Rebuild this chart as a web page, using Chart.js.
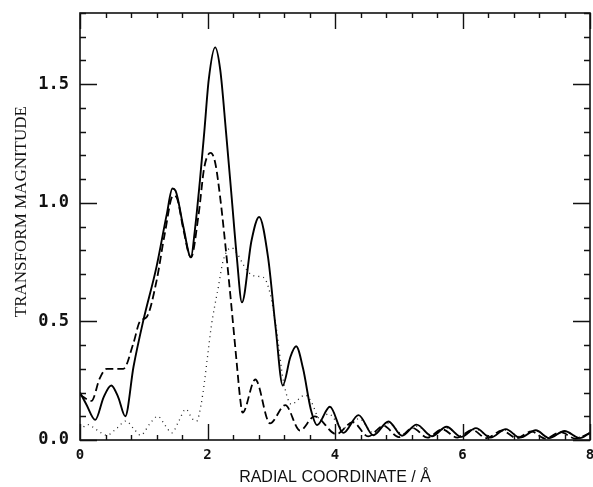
<!DOCTYPE html>
<html>
<head>
<meta charset="utf-8">
<script src="https://cdn.jsdelivr.net/npm/chart.js@4/dist/chart.umd.min.js"></script>
<style>
  html, body { margin: 0; padding: 0; background: #fff; }
  #wrap { width: 593px; height: 487px; }
</style>
</head>
<body>
<div id="wrap"><canvas id="c" width="593" height="487"></canvas></div>
<script>
// Radial coordinate (Å) and transform magnitude for the three curves
const solidR = [0.00, 0.10, 0.24, 0.37, 0.49, 0.60, 0.71, 0.84, 0.99, 1.20, 1.36, 1.45, 1.50, 1.62, 1.74, 1.80, 1.88, 1.95, 2.02, 2.12, 2.20, 2.29, 2.38, 2.46, 2.54, 2.69, 2.81, 2.95, 3.07, 3.18, 3.30, 3.39, 3.50, 3.62, 3.72, 3.92, 4.13, 4.37, 4.60, 4.84, 5.05, 5.28, 5.52, 5.75, 5.98, 6.21, 6.44, 6.68, 6.90, 7.15, 7.36, 7.60, 7.84, 8.00];
const solidMag = [0.20, 0.15, 0.085, 0.18, 0.23, 0.18, 0.10, 0.31, 0.50, 0.73, 0.95, 1.06, 1.05, 0.90, 0.77, 0.88, 1.09, 1.30, 1.52, 1.655, 1.56, 1.30, 1.02, 0.77, 0.58, 0.84, 0.94, 0.77, 0.47, 0.23, 0.35, 0.395, 0.30, 0.13, 0.063, 0.14, 0.03, 0.105, 0.02, 0.078, 0.018, 0.065, 0.016, 0.056, 0.013, 0.05, 0.01, 0.046, 0.01, 0.041, 0.008, 0.038, 0.008, 0.03];

const dashedR = [0.00, 0.18, 0.31, 0.42, 0.68, 0.84, 0.94, 1.05, 1.20, 1.33, 1.46, 1.52, 1.62, 1.74, 1.86, 1.95, 2.05, 2.12, 2.20, 2.30, 2.38, 2.46, 2.51, 2.55, 2.75, 2.98, 3.22, 3.45, 3.68, 4.02, 4.28, 4.52, 4.76, 5.00, 5.22, 5.45, 5.68, 5.92, 6.15, 6.38, 6.62, 6.85, 7.08, 7.30, 7.54, 7.77, 8.00];
const dashedMag = [0.19, 0.165, 0.26, 0.30, 0.30, 0.41, 0.50, 0.52, 0.67, 0.87, 1.03, 1.02, 0.89, 0.77, 0.95, 1.15, 1.21, 1.17, 1.02, 0.77, 0.55, 0.32, 0.18, 0.115, 0.255, 0.07, 0.147, 0.04, 0.10, 0.025, 0.075, 0.015, 0.06, 0.012, 0.05, 0.01, 0.045, 0.01, 0.042, 0.008, 0.04, 0.008, 0.036, 0.006, 0.033, 0.006, 0.03];

const dottedR = [0.00, 0.12, 0.25, 0.42, 0.58, 0.72, 0.85, 0.95, 1.10, 1.22, 1.34, 1.44, 1.55, 1.66, 1.76, 1.83, 1.90, 1.95, 2.00, 2.06, 2.17, 2.25, 2.38, 2.48, 2.56, 2.67, 2.77, 2.88, 2.98, 3.08, 3.19, 3.32, 3.42, 3.53, 3.63, 3.76, 3.90, 4.12, 4.38, 4.60, 4.84, 5.06, 5.28, 5.52, 5.75, 5.98, 6.21, 6.44, 6.68, 6.90, 7.15, 7.36, 7.60, 7.84, 8.00];
const dottedMag = [0.04, 0.065, 0.045, 0.02, 0.05, 0.08, 0.045, 0.02, 0.07, 0.10, 0.06, 0.03, 0.08, 0.13, 0.09, 0.08, 0.15, 0.24, 0.35, 0.48, 0.645, 0.76, 0.81, 0.78, 0.74, 0.70, 0.69, 0.685, 0.62, 0.47, 0.25, 0.15, 0.17, 0.19, 0.16, 0.09, 0.11, 0.05, 0.09, 0.03, 0.07, 0.025, 0.058, 0.02, 0.05, 0.018, 0.045, 0.015, 0.042, 0.015, 0.038, 0.012, 0.035, 0.012, 0.025];

// Axis tick labels
const xTickLabels = [0, 2, 4, 6, 8];
const yTickLabels = [0, 0.5, 1.0, 1.5];

const toPoints = (xs, ys) => xs.map((v, i) => ({ x: v, y: ys[i] }));

// Closed frame with inward tick marks on all four sides
const frameTicks = {
  id: 'frameTicks',
  afterDatasetsDraw(chart) {
    const { ctx, chartArea: a, scales: { x, y } } = chart;
    ctx.save();
    ctx.strokeStyle = '#111';
    ctx.lineWidth = 1.6;
    ctx.strokeRect(a.left, a.top, a.right - a.left, a.bottom - a.top);
    ctx.lineWidth = 1.4;
    ctx.beginPath();
    for (let i = 0; i <= 20; i++) {
      const v = i * 0.4;
      const px = Math.round(x.getPixelForValue(v)) + 0.5;
      const len = (i % 5 === 0) ? 16 : 5;
      ctx.moveTo(px, a.bottom); ctx.lineTo(px, a.bottom - len);
      ctx.moveTo(px, a.top); ctx.lineTo(px, a.top + len);
    }
    for (let i = 0; i <= 18; i++) {
      const v = i * 0.1;
      const py = Math.round(y.getPixelForValue(v)) + 0.5;
      const len = (i % 5 === 0) ? 17 : 6;
      ctx.moveTo(a.left, py); ctx.lineTo(a.left + len, py);
      ctx.moveTo(a.right, py); ctx.lineTo(a.right - len, py);
    }
    ctx.stroke();
    ctx.restore();
  }
};

new Chart(document.getElementById('c'), {
  type: 'line',
  data: {
    datasets: [
      {
        data: toPoints(solidR, solidMag),
        borderColor: '#000',
        borderWidth: 1.9,
        pointRadius: 0,
        cubicInterpolationMode: 'monotone',
        fill: false
      },
      {
        data: toPoints(dashedR, dashedMag),
        borderColor: '#000',
        borderWidth: 1.8,
        borderDash: [8, 4],
        pointRadius: 0,
        cubicInterpolationMode: 'monotone',
        fill: false
      },
      {
        data: toPoints(dottedR, dottedMag),
        borderColor: '#222',
        borderWidth: 1.3,
        borderDash: [1, 4],
        pointRadius: 0,
        cubicInterpolationMode: 'monotone',
        fill: false
      }
    ]
  },
  options: {
    responsive: false,
    animation: false,
    events: [],
    layout: { padding: { left: 0, right: 3, top: 13, bottom: 0 } },
    plugins: { legend: { display: false }, tooltip: { enabled: false } },
    scales: {
      x: {
        type: 'linear',
        min: 0,
        max: 8,
        grid: { display: false, drawTicks: false },
        border: { display: false },
        afterBuildTicks: s => { s.ticks = xTickLabels.map(v => ({ value: v })); },
        afterFit: s => { s.height = 47; s.paddingLeft = 0; s.paddingRight = 0; },
        ticks: {
          padding: 7,
          color: '#111',
          font: { family: 'DejaVu Sans Mono', size: 14, weight: 'bold' },
          callback: v => String(v)
        },
        title: {
          display: true,
          text: 'RADIAL COORDINATE / Å',
          color: '#111',
          font: { family: 'Liberation Sans', size: 16 },
          padding: { top: 0, bottom: 0 }
        }
      },
      y: {
        type: 'linear',
        min: 0,
        max: 1.8,
        grid: { display: false, drawTicks: false },
        border: { display: false },
        afterBuildTicks: s => { s.ticks = yTickLabels.map(v => ({ value: v })); },
        afterFit: s => { s.width = 80; s.paddingTop = 0; s.paddingBottom = 0; },
        ticks: {
          padding: 11,
          color: '#111',
          font: { family: 'DejaVu Sans Mono', size: 17, weight: 'bold' },
          callback: v => Number(v).toFixed(1)
        },
        title: {
          display: true,
          text: '       TRANSFORM MAGNITUDE',
          color: '#111',
          font: { family: 'Liberation Serif', size: 17 },
          padding: { top: 11, bottom: 0 }
        }
      }
    }
  },
  plugins: [frameTicks]
});
</script>
</body>
</html>
